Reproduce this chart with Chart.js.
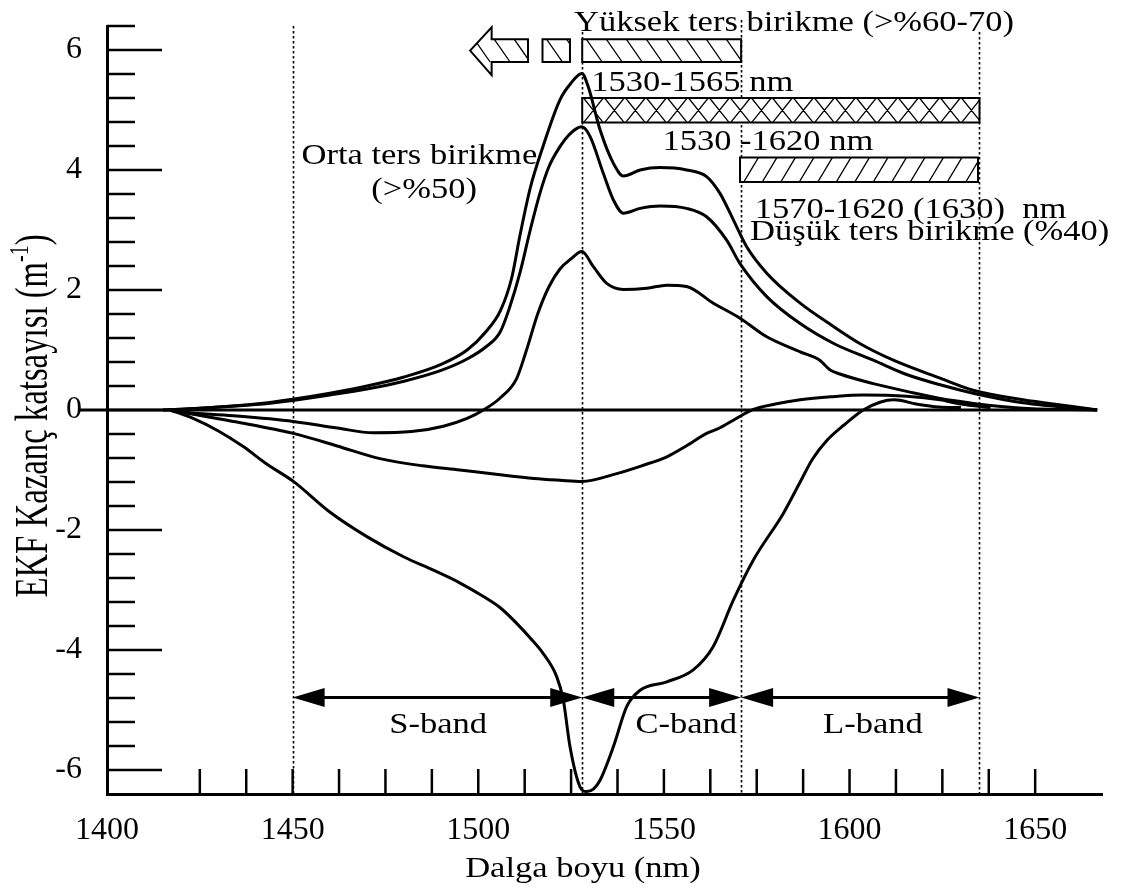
<!DOCTYPE html>
<html><head><meta charset="utf-8">
<script src="https://cdn.jsdelivr.net/npm/chart.js@4.4.0/dist/chart.umd.min.js"></script>
<style>html,body{margin:0;padding:0;background:#fff;}canvas{display:block;}</style>
</head><body>
<canvas id="c" width="1122" height="891"></canvas>
<script>
// ---- data ----
const xTickLabels = [1400, 1450, 1500, 1550, 1600, 1650];
const yTickLabels = [-6, -4, -2, 0, 2, 4, 6];
const bandEdges = [1450, 1528, 1570.8, 1635];

const zeroWl = [1392.7, 1666.7];
const zeroGain = [0, 0];

const highWl = [1415,1425,1440,1450,1460,1470,1480,1490,1497,1502,1506,1509,1511.2,1514,1517.1,1522,1525,1527.9,1529.6,1532.8,1536.4,1539.1,1543.6,1549,1556.1,1561.5,1565.1,1568.7,1572.3,1577.7,1586.7,1595,1603,1611.8,1624.4,1633.3,1646.7,1660,1666.7];
const highGain = [0,0.03,0.1,0.18,0.28,0.4,0.55,0.76,1.0,1.3,1.66,2.2,2.9,3.7,4.33,5.17,5.45,5.61,5.39,4.67,4.11,3.9,4.0,4.04,4.0,3.89,3.61,3.17,2.72,2.28,1.78,1.42,1.1,0.83,0.53,0.33,0.17,0.06,0];

const midWl = [1415,1425,1440,1450,1460,1470,1480,1490,1497,1502,1505.9,1508.5,1511.2,1514,1516.6,1519,1522,1525,1527.9,1530.1,1533.7,1536.4,1539.1,1543.6,1549,1556.1,1561.5,1566.9,1570.5,1577.7,1586.7,1596,1606.4,1615,1624.4,1633.3,1646.7,1666.7];
const midGain = [0,0.03,0.09,0.16,0.25,0.35,0.48,0.66,0.85,1.05,1.3,1.72,2.28,3.0,3.61,4.05,4.39,4.62,4.72,4.56,3.94,3.5,3.28,3.36,3.4,3.36,3.22,2.83,2.44,1.89,1.44,1.1,0.83,0.6,0.42,0.28,0.12,0];

const lowWl = [1417,1423,1435,1450.2,1462,1471.7,1482,1490.6,1497,1501.4,1505.9,1510.3,1513,1516,1519,1522,1525,1527.9,1531,1534.6,1539.1,1545.4,1550.8,1556.1,1563.3,1570.5,1577.7,1586.7,1592,1594.7,1597.4,1606.4,1615.4,1624.4,1633.4,1646.7,1666.7];
const lowGain = [0,-0.05,-0.1,-0.19,-0.3,-0.38,-0.36,-0.27,-0.14,0,0.2,0.52,1.0,1.6,2.05,2.35,2.52,2.64,2.39,2.11,2.01,2.03,2.08,2.06,1.78,1.53,1.22,0.97,0.83,0.67,0.6,0.44,0.31,0.19,0.11,0.03,0];

const negMidWl = [1417,1423.2,1435,1450.2,1462,1473.5,1485,1495,1505.9,1515,1522,1527.9,1537.3,1544,1550.8,1556,1561.5,1565,1568.7,1574.1,1580,1586.7,1595,1603.7,1615.4,1624.4,1630,1638];
const negMidGain = [0,-0.07,-0.2,-0.39,-0.6,-0.81,-0.93,-1.0,-1.08,-1.14,-1.17,-1.19,-1.06,-0.93,-0.78,-0.6,-0.39,-0.3,-0.17,0.01,0.1,0.17,0.22,0.25,0.23,0.17,0.1,0.04];

const negDeepWl = [1417,1423.2,1430,1436.7,1443,1450.2,1460,1470,1480,1487.9,1495,1501.4,1506,1510.4,1514,1517.5,1521.1,1522.9,1524.7,1527.4,1529.2,1531,1532.8,1536.4,1540,1543.6,1550.8,1557.9,1563.3,1568.7,1574.1,1582.2,1586.7,1590,1594,1598.5,1603.7,1608.2,1612,1618,1624,1630];
const negDeepGain = [0,-0.14,-0.35,-0.61,-0.9,-1.19,-1.7,-2.11,-2.45,-2.67,-2.88,-3.11,-3.3,-3.56,-3.8,-4.06,-4.44,-4.83,-5.61,-6.28,-6.36,-6.32,-6.17,-5.61,-4.94,-4.67,-4.53,-4.33,-3.94,-3.17,-2.5,-1.72,-1.2,-0.82,-0.5,-0.25,0,0.13,0.17,0.1,0.05,0.04];

// ---- helpers ----
const FONT = '"Liberation Serif", "Times New Roman", serif';
function pts(wl, g) { return wl.map((w, i) => ({ x: w, y: g[i] })); }
const lineStyle = { borderColor: '#000', borderWidth: 3, pointRadius: 0, fill: false, cubicInterpolationMode: 'monotone', clip: false };

function hatchShape(ctx, pathFn, kind, spacing, slant) {
  ctx.save();
  ctx.beginPath(); pathFn(ctx); ctx.fillStyle = '#fff'; ctx.fill();
  ctx.clip();
  ctx.strokeStyle = '#000'; ctx.lineWidth = 1.3; ctx.setLineDash([]);
  const b = ctx.__bounds;
  const h = b.y1 - b.y0, d = h * slant;
  ctx.beginPath();
  for (let s = b.x0 - d - spacing; s < b.x1 + spacing; s += spacing) {
    if (kind === 'back' || kind === 'cross') { ctx.moveTo(s, b.y0); ctx.lineTo(s + d, b.y1); }
    if (kind === 'fwd' || kind === 'cross') { ctx.moveTo(s, b.y1); ctx.lineTo(s + d, b.y0); }
  }
  ctx.stroke();
  ctx.restore();
  ctx.save();
  ctx.beginPath(); pathFn(ctx); ctx.strokeStyle = '#000'; ctx.lineWidth = 2; ctx.stroke();
  ctx.restore();
}

function stretchedText(ctx, str, px, py, align, size) {
  ctx.save();
  ctx.translate(px, py);
  ctx.scale(1.15, 1);
  ctx.font = size + 'px ' + FONT;
  ctx.fillStyle = '#000';
  ctx.textAlign = align;
  ctx.textBaseline = 'alphabetic';
  ctx.fillText(str, 0, 0);
  ctx.restore();
}

const annotations = {
  id: 'annotations',
  beforeDatasetsDraw(chart) {
    const { ctx, scales: { x, y } } = chart;
    // dotted band edges
    ctx.save();
    ctx.strokeStyle = '#000'; ctx.lineWidth = 1.6; ctx.setLineDash([2.5, 2.5]);
    const tops = [6.4, 6.3, 6.5, 6.3];
    bandEdges.forEach((wl, i) => {
      const px = Math.round(x.getPixelForValue(wl)) + 0.5;
      ctx.beginPath();
      ctx.moveTo(px, y.getPixelForValue(tops[i]));
      ctx.lineTo(px, y.getPixelForValue(-6.4));
      ctx.stroke();
    });
    ctx.restore();

    // hatched bars
    const rect = (w0, w1, v0, v1) => {
      const x0 = x.getPixelForValue(w0), x1 = x.getPixelForValue(w1);
      const y0 = y.getPixelForValue(v1), y1 = y.getPixelForValue(v0);
      ctx.__bounds = { x0, x1, y0, y1 };
      return c => c.rect(x0, y0, x1 - x0, y1 - y0);
    };
    hatchShape(ctx, rect(1528, 1570.8, 5.8, 6.18), 'back', 20, 0.7);
    hatchShape(ctx, rect(1517.3, 1524.7, 5.8, 6.18), 'back', 20, 0.7);
    hatchShape(ctx, rect(1528, 1635, 4.79, 5.2), 'cross', 21, 0.8);
    hatchShape(ctx, rect(1570.5, 1634.6, 3.8, 4.21), 'fwd', 18.5, 0.6);
    // hatched left arrow
    {
      const tip = x.getPixelForValue(1497.8), hb = x.getPixelForValue(1503.6), be = x.getPixelForValue(1513.4);
      const bt = y.getPixelForValue(6.18), bb = y.getPixelForValue(5.8);
      const ht = y.getPixelForValue(6.38), hbm = y.getPixelForValue(5.58), mid = (bt + bb) / 2;
      ctx.__bounds = { x0: tip, x1: be, y0: bt, y1: bb };
      hatchShape(ctx, c => {
        c.moveTo(tip, mid); c.lineTo(hb, ht); c.lineTo(hb, bt); c.lineTo(be, bt);
        c.lineTo(be, bb); c.lineTo(hb, bb); c.lineTo(hb, hbm); c.closePath();
      }, 'back', 20, 0.7);
    }
  },
  afterDatasetsDraw(chart) {
    const { ctx, scales: { x, y } } = chart;
    // band arrows
    const bands = [
      { from: bandEdges[0], to: bandEdges[1], label: 'S-band', at: 1489.2 },
      { from: bandEdges[1], to: bandEdges[2], label: 'C-band', at: 1556 },
      { from: bandEdges[2], to: bandEdges[3], label: 'L-band', at: 1606.3 }
    ];
    const ay = y.getPixelForValue(-4.79);
    ctx.save();
    ctx.fillStyle = '#000'; ctx.strokeStyle = '#000'; ctx.lineWidth = 3; ctx.setLineDash([]);
    bands.forEach(b => {
      const x0 = x.getPixelForValue(b.from), x1 = x.getPixelForValue(b.to);
      ctx.beginPath(); ctx.moveTo(x0 + 20, ay); ctx.lineTo(x1 - 20, ay); ctx.stroke();
      ctx.beginPath(); ctx.moveTo(x0, ay); ctx.lineTo(x0 + 32, ay - 9.5); ctx.lineTo(x0 + 32, ay + 9.5); ctx.closePath(); ctx.fill();
      ctx.beginPath(); ctx.moveTo(x1, ay); ctx.lineTo(x1 - 32, ay - 9.5); ctx.lineTo(x1 - 32, ay + 9.5); ctx.closePath(); ctx.fill();
      stretchedText(ctx, b.label, x.getPixelForValue(b.at), y.getPixelForValue(-5.38), 'center', 30);
    });
    ctx.restore();

    const texts = [
      ['Yüksek ters birikme (>%60-70)', 1585.05, 6.31, 'center'],
      ['1530-1565 nm', 1530.4, 5.32, 'left'],
      ['1530 -1620 nm', 1549.6, 4.33, 'left'],
      ['1570-1620 (1630)  nm', 1574.5, 3.2, 'left'],
      ['Düşük ters birikme (%40)', 1573.2, 2.83, 'left'],
      ['Orta ters birikme', 1452.4, 4.1, 'left'],
      ['(>%50)', 1485.4, 3.53, 'center']
    ];
    texts.forEach(t => stretchedText(ctx, t[0], x.getPixelForValue(t[1]), y.getPixelForValue(t[2]), t[3], 30));
  },
  afterDraw(chart) {
    const { ctx, scales: { x, y } } = chart;
    const left = x.left, bottom = y.bottom;
    ctx.save();
    ctx.strokeStyle = '#000'; ctx.lineWidth = 2.5; ctx.setLineDash([]);
    // y ticks, inward, every 0.4
    for (let k = 1; k <= 32; k++) {
      const v = (k * 4 - 64) / 10;
      const major = (k * 4 - 64) % 20 === 0;
      const py = y.getPixelForValue(v);
      ctx.beginPath(); ctx.moveTo(left, py); ctx.lineTo(left + (major ? 55 : 28), py); ctx.stroke();
    }
    // x ticks, inward, every 12.5 nm
    for (let k = 2; k <= 20; k++) {
      const px = x.getPixelForValue(1400 + 12.5 * k);
      ctx.beginPath(); ctx.moveTo(px, bottom); ctx.lineTo(px, bottom - 25); ctx.stroke();
    }
    ctx.restore();

    // x axis title
    stretchedText(ctx, 'Dalga boyu (nm)', x.left + 476, bottom + 83, 'center', 30);

    // y axis title (rotated, condensed along the text)
    ctx.save();
    const size = 46;
    ctx.translate(47, (y.top + y.bottom) / 2 + 6);
    ctx.rotate(-Math.PI / 2);
    ctx.scale(0.712, 1);
    ctx.fillStyle = '#000';
    ctx.textBaseline = 'alphabetic';
    ctx.textAlign = 'left';
    const main = 'EKF Kazanç katsayısı (m', sup = '-1', close = ')';
    ctx.font = size + 'px ' + FONT;
    const w1 = ctx.measureText(main).width, w3 = ctx.measureText(close).width;
    ctx.font = Math.round(size * 0.6) + 'px ' + FONT;
    const w2 = ctx.measureText(sup).width;
    let cx = -(w1 + w2 + w3) / 2;
    ctx.font = size + 'px ' + FONT;
    ctx.fillText(main, cx, 0); cx += w1;
    ctx.font = Math.round(size * 0.6) + 'px ' + FONT;
    ctx.fillText(sup, cx, -size * 0.42); cx += w2;
    ctx.font = size + 'px ' + FONT;
    ctx.fillText(close, cx, 0);
    ctx.restore();
  }
};

new Chart(document.getElementById('c'), {
  type: 'line',
  data: {
    datasets: [
      Object.assign({}, lineStyle, { data: pts(zeroWl, zeroGain), cubicInterpolationMode: 'default', tension: 0 }),
      Object.assign({}, lineStyle, { data: pts(highWl, highGain) }),
      Object.assign({}, lineStyle, { data: pts(midWl, midGain) }),
      Object.assign({}, lineStyle, { data: pts(lowWl, lowGain) }),
      Object.assign({}, lineStyle, { data: pts(negMidWl, negMidGain) }),
      Object.assign({}, lineStyle, { data: pts(negDeepWl, negDeepGain) })
    ]
  },
  options: {
    responsive: false,
    animation: false,
    events: [],
    layout: { padding: { top: 26, right: 20, left: 0, bottom: 0 } },
    plugins: { legend: { display: false }, tooltip: { enabled: false } },
    scales: {
      x: {
        type: 'linear', min: 1400, max: 1668,
        afterBuildTicks: s => { s.ticks = xTickLabels.map(v => ({ value: v })); },
        afterFit: s => { s.height = 97; s.paddingLeft = 0; s.paddingRight = 0; },
        grid: { display: false, drawTicks: false },
        border: { display: true, color: '#000', width: 3 },
        ticks: { color: '#000', font: { family: FONT, size: 32 }, padding: 17, maxRotation: 0, autoSkip: false, callback: v => String(v) },
        title: { display: false }
      },
      y: {
        type: 'linear', min: -6.4, max: 6.4,
        afterBuildTicks: s => { s.ticks = yTickLabels.map(v => ({ value: v })); },
        afterFit: s => { s.width = 107; s.paddingTop = 0; s.paddingBottom = 0; },
        grid: { display: false, drawTicks: false },
        border: { display: true, color: '#000', width: 3 },
        ticks: { color: '#000', font: { family: FONT, size: 32 }, padding: 25, autoSkip: false, callback: v => String(v) }
      }
    }
  },
  plugins: [annotations]
});
</script>
</body></html>
